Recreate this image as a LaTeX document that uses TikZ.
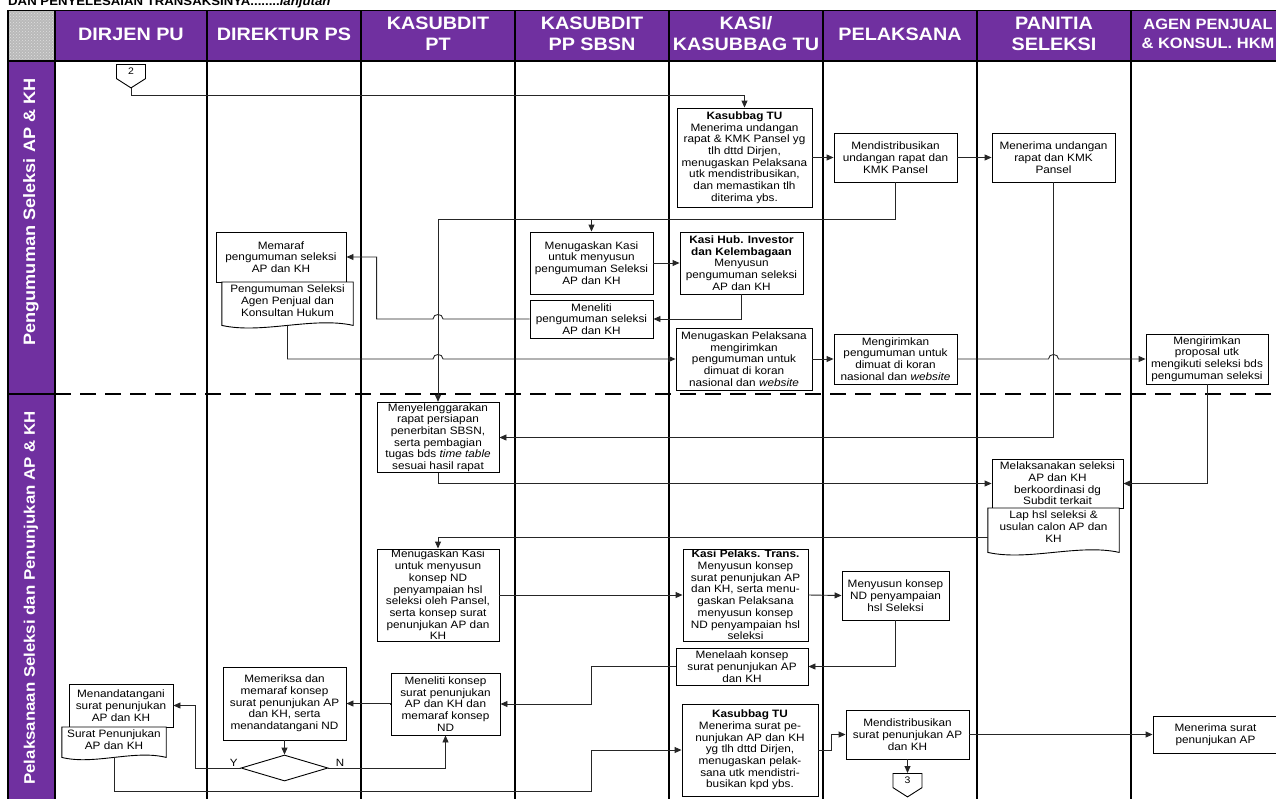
\documentclass[tikz,border=0pt]{standalone}
\usepackage{fontspec}
\setmainfont{Liberation Sans}[FakeStretch=1.1]
\usetikzlibrary{arrows.meta,positioning,shapes.geometric,shapes.symbols,patterns}
\definecolor{ungu}{RGB}{112,48,160}

\begin{document}
\begin{tikzpicture}[
    x=1pt, y=-1pt,
    >={Triangle[length=7pt,width=6pt]},
    sz/.style 2 args={minimum width=#1pt, minimum height=#2pt},
    box/.style={draw, line width=0.9pt, fill=white, align=center, inner sep=1pt, font=\fontsize{10.7}{11.7}\selectfont},
    doc/.style={align=center, inner sep=1pt, font=\fontsize{10.7}{11.7}\selectfont},
    docline/.style={draw, line width=0.9pt, fill=white},
    decision/.style={diamond, draw, line width=0.9pt, fill=white, aspect=3.35, minimum width=87pt, minimum height=26pt, inner sep=0pt},
    offpage/.style={signal, signal to=south, signal from=nowhere, signal pointer angle=115, draw, line width=0.9pt, fill=white, minimum width=29pt, minimum height=17pt, inner sep=1.5pt, font=\fontsize{9.5}{10}\selectfont},
    kolom/.style={text=white, align=center, font=\fontsize{18}{21}\selectfont\bfseries},
    baris/.style={text=white, rotate=90, font=\fontsize{16.5}{18}\selectfont\bfseries},
    yn/.style={inner sep=1pt, font=\fontsize{10.5}{12}\selectfont},
    laneline/.style={line width=2pt, draw=black},
    arrow/.style={->, line width=0.9pt, draw=black!85},
    line/.style={line width=0.9pt, draw=black!85}
  ]
    \useasboundingbox (0,0) rectangle (1276,798);

    % judul yang terpotong
    \node[anchor=base west, inner sep=0pt, font=\fontsize{12}{14}\selectfont\bfseries] (judul) at (8,5) {DAN PENYELESAIAN TRANSAKSINYA........\textit{lanjutan}};

    % kepala kolom dan lajur
    \fill[ungu] (55,10) rectangle (1290,61);
    \fill[ungu] (8,62) rectangle (55,805);
    \fill[gray!55] (8,10) rectangle (55,61);
    \fill[pattern=crosshatch dots, pattern color=white!75!gray] (8,10) rectangle (55,61);
    \draw[line width=1pt] (8,10) -- (1290,10);
    \draw[line width=2pt] (8,61) -- (1290,61);
    \draw[line width=1.5pt] (8,10) -- (8,805);
    \draw[laneline] (55,10) -- (55,805);
    \draw[laneline] (207,10) -- (207,805);
    \draw[laneline] (361,10) -- (361,805);
    \draw[laneline] (515,10) -- (515,805);
    \draw[laneline] (669,10) -- (669,805);
    \draw[laneline] (823,10) -- (823,805);
    \draw[laneline] (977,10) -- (977,805);
    \draw[laneline] (1131,10) -- (1131,805);
    \draw[line width=2pt] (8,394) -- (55,394);
    \draw[line width=2.2pt, dash pattern=on 16pt off 9pt] (55,394) -- (1290,394);

    \node[kolom] (hDirjen) at (131,34) {DIRJEN PU};
    \node[kolom] (hDirektur) at (284,34) {DIREKTUR PS};
    \node[kolom] (hPT) at (438,34) {KASUBDIT\\PT};
    \node[kolom] (hSBSN) at (592,34) {KASUBDIT\\PP SBSN};
    \node[kolom] (hKasi) at (746,34) {KASI/\\KASUBBAG TU};
    \node[kolom] (hPelaksana) at (900,34) {PELAKSANA};
    \node[kolom] (hPanitia) at (1054,34) {PANITIA\\SELEKSI};
    \node[kolom, font=\fontsize{15}{19}\selectfont\bfseries] (hAgen) at (1208,34) {AGEN PENJUAL\\\& KONSUL. HKM};

    \node[baris] (lane1) at (31,212) {Pengumuman Seleksi AP \& KH};
    \node[baris, font=\fontsize{15.3}{18}\selectfont\bfseries] (lane2) at (31,598) {Pelaksanaan Seleksi dan Penunjukan AP \& KH};

    % pengumuman seleksi
    \node[offpage, anchor=north] (hal2) at (131,64) {2};
    \node[box, sz={135}{99}] (ktu1) at (744.5,157.5) {\textbf{Kasubbag TU}\\Menerima undangan\\rapat \& KMK Pansel yg\\tlh dttd Dirjen,\\menugaskan Pelaksana\\utk mendistribusikan,\\dan memastikan tlh\\diterima ybs.};
    \node[box, sz={123}{49}] (dist1) at (895.5,157.5) {Mendistribusikan\\undangan rapat dan\\KMK Pansel};
    \node[box, sz={123}{49}] (terima1) at (1053.5,157.5) {Menerima undangan\\rapat dan KMK\\Pansel};
    \node[box, sz={123}{62}] (tugas1) at (591.5,263) {Menugaskan Kasi\\untuk menyusun\\pengumuman Seleksi\\AP dan KH};
    \node[box, sz={123}{62}] (hubinv) at (741.5,263) {\textbf{Kasi Hub. Investor}\\\textbf{dan Kelembagaan}\\Menyusun\\pengumuman seleksi\\AP dan KH};
    \node[box, sz={123}{38}] (teliti1) at (591.5,319) {Meneliti\\pengumuman seleksi\\AP dan KH};
    \node[box, sz={130}{50}] (paraf1) at (281,257) {Memaraf\\pengumuman seleksi\\AP dan KH};
    \node[doc, sz={131}{43}, anchor=north] (doc1) at (287.5,282) {};
    \node[box, sz={136}{62}] (kirimtugas) at (744,359) {Menugaskan Pelaksana\\mengirimkan\\pengumuman untuk\\dimuat di koran\\nasional dan \textit{website}};
    \node[box, sz={123}{50}] (kirim1) at (895.5,359) {Mengirimkan\\pengumuman untuk\\dimuat di koran\\nasional dan \textit{website}};
    \node[box, sz={122}{50}] (proposal) at (1207,359) {Mengirimkan\\proposal utk\\mengikuti seleksi bds\\pengumuman seleksi};

    % pelaksanaan seleksi dan penunjukan
    \node[box, sz={122}{69}] (rapat) at (438,437.5) {Menyelenggarakan\\rapat persiapan\\penerbitan SBSN,\\serta pembagian\\tugas bds \textit{time table}\\sesuai hasil rapat};
    \node[box, sz={131}{49}] (seleksi) at (1057.5,483.5) {Melaksanakan seleksi\\AP dan KH\\berkoordinasi dg\\Subdit terkait};
    \node[doc, sz={131}{44}, anchor=north] (doc2) at (1053.5,508) {};
    \node[box, sz={122}{92}] (tugas2) at (438,595) {Menugaskan Kasi\\untuk menyusun\\konsep ND\\penyampaian hsl\\seleksi oleh Pansel,\\serta konsep surat\\penunjukan AP dan\\KH};
    \node[box, sz={125}{92}] (pelaks) at (745.5,595) {\textbf{Kasi Pelaks. Trans.}\\Menyusun konsep\\surat penunjukan AP\\dan KH, serta menu-\\gaskan Pelaksana\\menyusun konsep\\ND penyampaian hsl\\seleksi};
    \node[box, sz={107}{49}] (konsepnd) at (895.5,595.5) {Menyusun konsep\\ND penyampaian\\hsl Seleksi};
    \node[box, sz={132}{37}] (telaah) at (742,666.5) {Menelaah konsep\\surat penunjukan AP\\dan KH};
    \node[box, sz={109}{62}] (teliti2) at (445.5,704) {Meneliti konsep\\surat penunjukan\\AP dan KH dan\\memaraf konsep\\ND};
    \node[box, sz={123}{73}] (periksa) at (284.5,703.5) {Memeriksa dan\\memaraf konsep\\surat penunjukan AP\\dan KH, serta\\menandatangani ND};
    \node[decision] (cek) at (284.5,768) {};
    \node[box, sz={104}{43}] (ttd) at (121,705.5) {Menandatangani\\surat penunjukan\\AP dan KH};
    \node[doc, sz={104}{30}, anchor=north] (doc3) at (114,727) {};
    \node[box, sz={136}{92}] (ktu2) at (750,750) {\textbf{Kasubbag TU}\\Menerima surat pe-\\nunjukan AP dan KH\\yg tlh dttd Dirjen,\\menugaskan pelak-\\sana utk mendistri-\\busikan kpd ybs.};
    \node[box, sz={123}{49}] (dist2) at (907.5,734.5) {Mendistribusikan\\surat penunjukan AP\\dan KH};
    \node[box, sz={125}{37}] (terimasurat) at (1215.5,734.5) {Menerima surat\\penunjukan AP};
    \node[offpage, anchor=north] (hal3) at (907.5,773) {3};

    % bentuk dokumen
    \draw[docline] (doc1.north west) -- (doc1.south west) .. controls +(40,9) and +(-40,-9) .. (doc1.south east) -- (doc1.north east) -- cycle;
    \draw[docline] (doc2.north west) -- (doc2.south west) .. controls +(40,9) and +(-40,-9) .. (doc2.south east) -- (doc2.north east) -- cycle;
    \draw[docline] (doc3.north west) -- (doc3.south west) .. controls +(32,8) and +(-32,-8) .. (doc3.south east) -- (doc3.north east) -- cycle;
    \node[doc, anchor=north] (doc1teks) at ([yshift=-2pt]doc1.north) {Pengumuman Seleksi\\Agen Penjual dan\\Konsultan Hukum};
    \node[doc, anchor=north] (doc2teks) at ([yshift=-2pt]doc2.north) {Lap hsl seleksi \&\\usulan calon AP dan\\KH};
    \node[doc, anchor=north] (doc3teks) at ([yshift=-2pt]doc3.north) {Surat Penunjukan\\AP dan KH};

    \coordinate (cabang) at (591.5,219);
    \coordinate (bawah) at (591.5,791);

    % alur
    \draw[arrow] (hal2.south) -- ++(0,7) -| (ktu1.north);
    \draw[arrow] (ktu1.east |- dist1.west) -- (dist1.west);
    \draw[arrow] (dist1.east) -- (terima1.west);
    \draw[line] (dist1.south) |- (cabang);
    \draw[arrow] (cabang) -- (tugas1.north);
    \draw[arrow] (cabang) -| (rapat.north);
    \draw[arrow] (tugas1.east) -- (hubinv.west);
    \draw[arrow] (hubinv.south) |- (teliti1.east);
    \draw[arrow] (teliti1.west) -- ([xshift=5pt]teliti1.west -| rapat.north) .. controls +(0,-6) and +(0,-6) .. ([xshift=-5pt]teliti1.west -| rapat.north) -- (rapat.west |- teliti1.west) |- (paraf1.east);
    \draw[arrow] (doc1.south) |- ([xshift=-5pt]kirimtugas.west -| rapat.north) .. controls +(0,-6) and +(0,-6) .. ([xshift=5pt]kirimtugas.west -| rapat.north) -- (kirimtugas.west);
    \draw[arrow] (kirimtugas.east) -- (kirim1.west);
    \draw[arrow] (kirim1.east) -- ([xshift=-5pt]kirim1.east -| terima1.south) .. controls +(0,-6) and +(0,-6) .. ([xshift=5pt]kirim1.east -| terima1.south) -- (proposal.west);
    \draw[arrow] (terima1.south) |- (rapat.east);
    \draw[arrow] (rapat.south) |- (seleksi.west);
    \draw[arrow] (proposal.south) |- (seleksi.east);
    \draw[arrow] ([yshift=-7pt]doc2.west) -| (tugas2.north);
    \draw[arrow] (tugas2.east) -- (pelaks.west);
    \draw[arrow] (pelaks.east) -- (konsepnd.west);
    \draw[arrow] (konsepnd.south) |- (telaah.east);
    \draw[arrow] (telaah.west) -- (telaah.west -| tugas1.south) |- (teliti2.east);
    \draw[arrow] (teliti2.west) -- (periksa.east -| teliti2.west) -- (periksa.east);
    \draw[arrow] (periksa.south) -- (cek.north);
    \draw[arrow] (cek.west) -- node[yn, above, pos=0.15] (labelY) {Y} ++(-45,0) |- (ttd.east);
    \draw[arrow] (cek.east) -| node[yn, above, pos=0.05] (labelN) {N} (teliti2.south);
    \draw[arrow] (doc3.south) |- (bawah) |- (ktu2.west);
    \draw[arrow] (ktu2.east) -- ++(13,0) |- (dist2.west);
    \draw[arrow] (dist2.east) -- (terimasurat.west);
    \draw[arrow] (dist2.south) -- (hal3.north);
  \end{tikzpicture}
\end{document}
